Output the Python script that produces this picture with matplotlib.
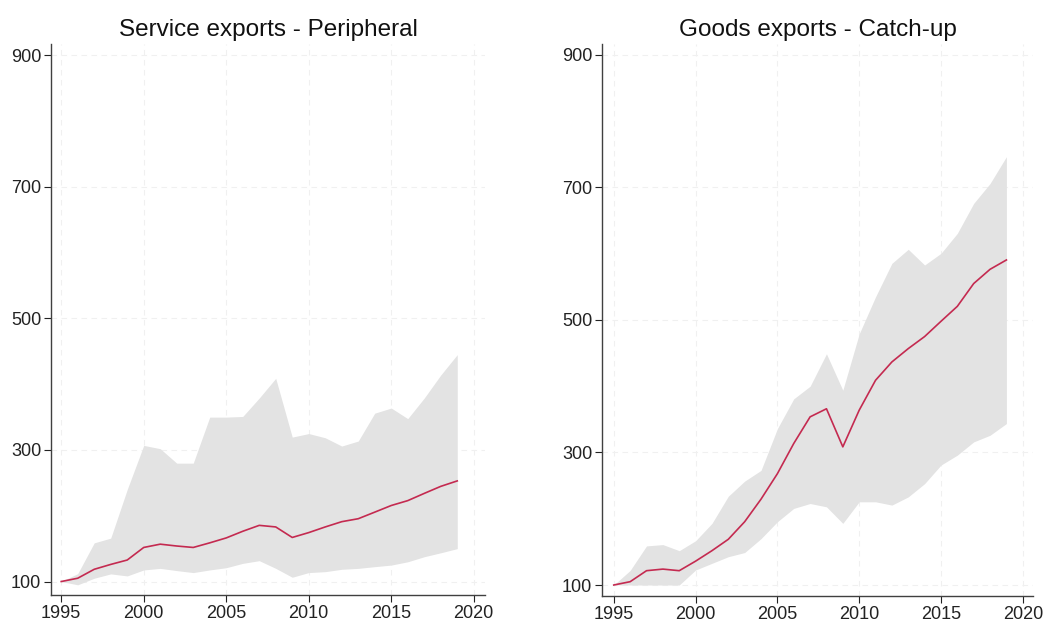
import matplotlib
matplotlib.use("Agg")
import matplotlib.pyplot as plt

plt.rcParams['font.family'] = ['Liberation Sans', 'DejaVu Sans']

years = list(range(1995, 2020))

# Service exports - Peripheral
serv_mean = [100, 105, 118.6, 126, 132.7, 151.8, 156.8, 154, 151.8, 158.8, 166.3, 176.4, 185.4,
             183, 167, 174.4, 183, 191, 195.5, 205.5, 215.6, 223, 234, 244.7, 253]
serv_hi = [100, 112, 158.8, 166, 240, 307, 302, 280, 280, 350, 350, 351, 379,
           409, 319.6, 325, 318.6, 306, 313.6, 356, 363.8, 347.7, 379, 414, 445]
serv_lo = [100, 95, 105, 111.6, 108.5, 117.6, 120, 116.6, 113.6, 117.6, 121, 127.6, 131.7,
           120, 106.5, 113.6, 115, 118.6, 120, 122.6, 125, 130, 137.7, 143.7, 150]

# Goods exports - Catch-up
goods_mean = [100, 105, 121.6, 124, 121.6, 136, 151.8, 169, 195.5, 229.6, 268, 313.6, 353.8,
              366, 308.5, 363.8, 409, 436.7, 456.8, 475, 498, 520.6, 555, 576.5, 590.6]
goods_hi = [100, 122, 159, 161, 151.8, 166.8, 193, 234, 256.8, 273, 336, 381, 400,
            449, 394, 479, 535, 585.5, 606.7, 583, 600.6, 630.8, 676, 706, 746.5]
goods_lo = [100, 100, 100, 100, 100, 122.6, 132.7, 142.7, 149, 170, 195.5, 215.6, 223,
            218, 193, 225.6, 225.6, 220.6, 233, 253, 281, 296, 316, 326, 343.7]

titles = ["Service exports - Peripheral", "Goods exports - Catch-up"]
xticks = [1995, 2000, 2005, 2010, 2015, 2020]
yticks = [100, 300, 500, 700, 900]

fig = plt.figure(figsize=(10.47, 6.22), dpi=100, facecolor="white")
ax1 = fig.add_axes([0.0487, 0.0434, 0.4145, 0.886])
ax2 = fig.add_axes([0.575, 0.0418, 0.4117, 0.8875])

panels = [(ax1, serv_mean, serv_lo, serv_hi, (1994.38, 2020.68), (79.5, 917.5)),
          (ax2, goods_mean, goods_lo, goods_hi, (1994.28, 2020.63), (83.4, 916.6))]

for i, (ax, mean, lo, hi, xl, yl) in enumerate(panels):
    ax.fill_between(years, lo, hi, color="#e3e3e3", linewidth=0, zorder=2)
    ax.plot(years, mean, color="#c42a50", linewidth=1.2, zorder=3)
    ax.set_xlim(*xl)
    ax.set_ylim(*yl)
    ax.set_xticks(xticks)
    ax.set_yticks(yticks)
    ax.grid(True, color="#f0f0f0", linestyle=(0, (5, 4)), linewidth=0.8, zorder=0)
    for s in ["top", "right"]:
        ax.spines[s].set_visible(False)
    for s in ["left", "bottom"]:
        ax.spines[s].set_color("#404040")
        ax.spines[s].set_linewidth(1.0)
    ax.tick_params(colors="#222222", labelsize=13, length=5, width=0.8,
                   direction="out", pad=2)
    ax.set_title(titles[i], fontsize=17.5, color="#111111", pad=6)

plt.savefig("out.png", dpi=100, facecolor="white")
